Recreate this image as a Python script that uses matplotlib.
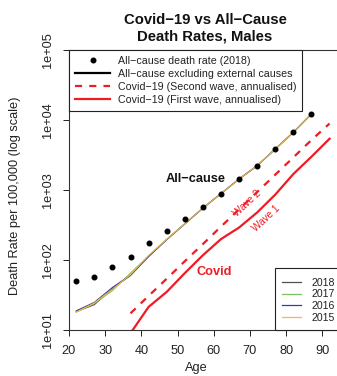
import matplotlib
matplotlib.use("Agg")
import matplotlib.pyplot as plt
import numpy as np
from matplotlib.lines import Line2D
from matplotlib.patches import Rectangle

plt.rcParams['font.family'] = ['Liberation Sans', 'DejaVu Sans']

# ---- data ----
ages = [22, 27, 32, 37, 42, 47, 52, 57, 62, 67, 72, 77, 82, 87]
allcause_2018 = [50, 57.6, 80, 111, 173, 260, 380, 566, 890, 1436, 2225, 3830, 6670, 12200]

excl_2018 = [18.3, 23.0, 39.0, 60, 113, 196, 329, 553, 887, 1436, 2227, 3850, 6670, 12200]
excl_2017 = [18.0, 24.0, 36.5, 65, 115, 198, 330, 555, 885, 1430, 2230, 3840, 6650, 12100]
excl_2016 = [18.8, 24.8, 40.5, 61, 112, 195, 327, 550, 890, 1440, 2220, 3860, 6680, 12300]
excl_2015 = [18.0, 24.3, 38.0, 62, 116, 197, 329, 553, 887, 1436, 2227, 3850, 6670, 12250]
years = ['2018', '2017', '2016', '2015']
year_colors = ['#505050', '#7cc160', '#3c3ca0', '#f0b848']

covid_ages = [37, 42, 47, 52, 57, 62, 67, 72, 77, 82, 87, 92]
covid_wave1 = [9.0, 21.4, 35, 65, 117, 199, 291, 478, 860, 1693, 2990, 5400]
covid_wave2 = [17.3, 30.7, 54, 96, 169, 300, 530, 936, 1655, 2924, 5180, 8900]

xticks = [20, 30, 40, 50, 60, 70, 80, 90]
yticks = [1e1, 1e2, 1e3, 1e4, 1e5]
ytick_labels = ['1e+01', '1e+02', '1e+03', '1e+04', '1e+05']

RED = '#ee1c24'

W, H = 337, 376
fig = plt.figure(figsize=(W / 100, H / 100), dpi=100)
ax_left, ax_bottom = 69, 330
px_per_year = 3.619
x_max = 100
ax_w = (x_max - 20) * px_per_year
ax_h = 280
ax = fig.add_axes([ax_left / W, (H - ax_bottom) / H, ax_w / W, ax_h / H])
ax.set_yscale('log')
ax.set_xlim(20, x_max)
ax.set_ylim(10, 1e5)

# all-cause excluding external, by year
for vals, yr, col in zip([excl_2018, excl_2017, excl_2016, excl_2015], years, year_colors):
    ax.plot(ages, vals, color=col, lw=0.8, solid_joinstyle='round')

ax.plot(ages, allcause_2018, 'o', color='black', ms=3.3, zorder=5)

ax.plot(covid_ages, covid_wave2, color=RED, lw=1.6, dashes=(3.2, 3.2))
ax.plot(covid_ages, covid_wave1, color=RED, lw=1.6)

# annotations
ax.text(55.1, 1436, 'All−cause', fontsize=9.2, fontweight='bold', ha='center', va='center', color='#111111')
ax.text(60.1, 67.4, 'Covid', fontsize=9.2, fontweight='bold', ha='center', va='center', color=RED)
ax.text(69.3, 646, 'Wave 2', fontsize=7.2, ha='center', va='center', color=RED, rotation=43)
ax.text(74.6, 395, 'Wave 1', fontsize=7.2, ha='center', va='center', color=RED, rotation=43)

# axes styling
ax.set_xticks(xticks)
ax.set_yticks(yticks)
ax.set_yticklabels(ytick_labels, rotation=90, va='center')
ax.minorticks_off()
ax.tick_params(axis='both', direction='out', length=4.5, width=0.7, labelsize=9.2, colors='#222222')
ax.tick_params(axis='y', pad=6.5)
ax.tick_params(axis='x', pad=6.5)
for s in ax.spines.values():
    s.set_linewidth(0.8)
    s.set_color('#333333')

# legends
h1 = [Line2D([], [], marker='o', ls='none', color='black', ms=3.3),
      Line2D([], [], color='black', lw=1.6),
      Line2D([], [], color=RED, lw=1.6, dashes=(3.2, 3.2)),
      Line2D([], [], color=RED, lw=1.6)]
l1 = ['All−cause death rate (2018)', 'All−cause excluding external causes',
      'Covid−19 (Second wave, annualised)', 'Covid−19 (First wave, annualised)']
leg1 = ax.legend(h1, l1, loc='upper left', bbox_to_anchor=(0, 1), borderaxespad=0,
                 fontsize=7.7, frameon=True, fancybox=False, edgecolor='#222222',
                 framealpha=1, handlelength=3.3, handletextpad=0.7, labelspacing=0.28,
                 borderpad=0.55, numpoints=1)
leg1.get_frame().set_linewidth(0.8)
for t in leg1.get_texts():
    t.set_color('#222222')
ax.add_artist(leg1)

# year legend: frame extends past the right edge of the picture
x0 = (275 - ax_left) / ax_w
frame = Rectangle((x0, 0), (400 - 275) / ax_w, (330 - 268) / ax_h, transform=ax.transAxes,
                  facecolor='white', edgecolor='#222222', lw=0.8, zorder=4.8, clip_on=False)
ax.add_patch(frame)
h2 = [Line2D([], [], color=c, lw=0.9) for c in year_colors]
leg2 = ax.legend(h2, years, loc='lower left', bbox_to_anchor=(x0, 0),
                 borderaxespad=0, fontsize=7.6, frameon=False,
                 handlelength=1.8, handletextpad=0.95,
                 labelspacing=0.15, borderpad=0.7)
leg2.set_zorder(5)
for t in leg2.get_texts():
    t.set_color('#222222')

# titles and labels
fig.text(205 / W, 1 - 28.5 / H, 'Covid−19 vs All−Cause\nDeath Rates, Males', ha='center', va='center',
         fontsize=10.7, fontweight='bold', linespacing=1.25, color='#111111')
fig.text(196 / W, 1 - 368 / H, 'Age', ha='center', va='center', fontsize=9.2, color='#222222')
fig.text(15 / W, 1 - 196 / H, 'Death Rate per 100,000 (log scale)', ha='center', va='center',
         rotation=90, fontsize=9.2, color='#222222')

fig.savefig('out.png', dpi=100)
